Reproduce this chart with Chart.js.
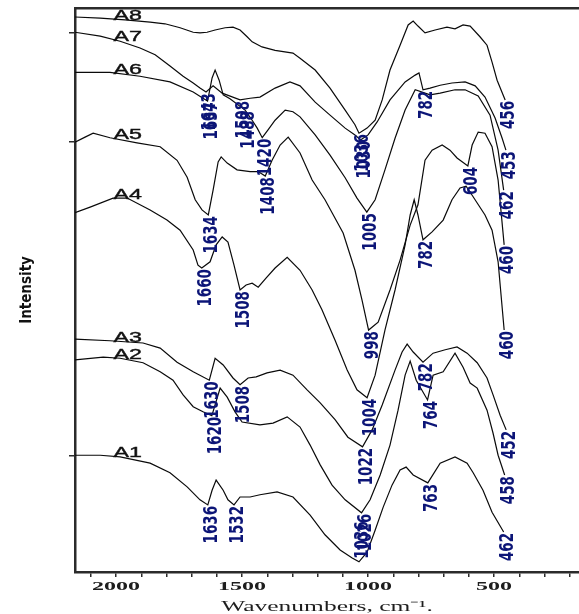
<!DOCTYPE html>
<html>
<head>
<meta charset="utf-8">
<title>FTIR spectra A1-A8</title>
<script src="https://cdn.jsdelivr.net/npm/chart.js@4.4.0/dist/chart.umd.min.js"></script>
<style>
  html, body { margin: 0; padding: 0; background: #fff; }
  canvas { display: block; }
</style>
</head>
<body>
<canvas id="ftirChart" width="579" height="614"></canvas>
<script>
// Spectra as [wavenumber (cm-1), intensity (a.u.)], high to low wavenumber
const a8 = [[2163,98.4],[2063,98.2],[1964,97.9],[1865,97.5],[1806,97.2],[1746,96.5],[1694,95.7],[1667,95.6],[1639,95.7],[1607,96.1],[1567,96.5],[1536,96.6],[1508,96.1],[1480,94.9],[1460,94.0],[1421,93.1],[1369,92.5],[1298,92.0],[1270,91.1],[1210,89.0],[1151,85.8],[1091,81.9],[1052,79.3],[1036,77.8],[1004,78.7],[972,80.1],[944,83.7],[913,89.0],[873,93.4],[841,97.0],[821,97.7],[802,96.8],[774,95.6],[734,96.1],[687,96.6],[655,96.3],[623,97.0],[595,96.8],[556,94.9],[528,93.4],[508,90.4],[488,87.2],[456,83.7]];
const a7 = [[2163,95.7],[2063,95.0],[1984,94.1],[1905,92.9],[1845,91.7],[1786,89.7],[1734,87.9],[1694,86.7],[1667,85.8],[1643,85.1],[1615,86.2],[1579,84.9],[1508,83.7],[1468,84.0],[1429,84.2],[1369,85.8],[1310,86.9],[1270,86.2],[1210,83.3],[1151,81.0],[1091,78.7],[1052,77.5],[1030,76.6],[1000,77.5],[964,79.8],[913,83.7],[853,86.9],[813,88.1],[798,88.5],[782,85.5],[754,85.8],[714,86.3],[667,86.7],[615,86.9],[575,86.2],[536,84.2],[496,80.5],[468,76.9],[453,74.8]];
const a6 = [[2163,88.6],[2024,88.6],[1905,87.9],[1786,86.9],[1694,85.1],[1655,84.0],[1637,83.5],[1619,87.6],[1607,89.0],[1591,87.2],[1575,84.6],[1548,83.9],[1488,81.9],[1460,80.1],[1440,78.7],[1420,77.0],[1397,78.4],[1369,80.1],[1329,81.9],[1298,81.6],[1270,80.7],[1210,77.5],[1151,73.9],[1091,69.9],[1044,66.3],[1005,63.8],[972,66.0],[933,71.3],[893,76.9],[853,81.9],[813,85.5],[754,84.6],[714,84.9],[655,85.5],[615,85.5],[563,84.4],[516,81.0],[484,74.8],[462,67.7]];
const a5 = [[2163,76.2],[2123,77.1],[2091,77.8],[2024,77.0],[1917,76.1],[1825,75.4],[1758,73.0],[1718,70.0],[1686,66.0],[1659,64.2],[1634,63.3],[1615,67.7],[1595,72.7],[1583,73.6],[1559,72.5],[1520,71.3],[1468,71.0],[1436,71.0],[1408,70.2],[1381,73.0],[1349,75.7],[1317,77.1],[1270,74.3],[1222,69.5],[1171,66.0],[1099,60.1],[1052,53.5],[1024,48.2],[998,42.9],[960,44.3],[913,50.0],[873,55.3],[833,61.5],[802,65.1],[774,73.0],[746,74.8],[706,75.7],[675,74.8],[647,73.4],[604,72.0],[587,75.7],[563,78.0],[536,77.8],[508,75.4],[484,69.5],[460,58.0]];
const a4 = [[2163,63.7],[2103,64.7],[2012,66.3],[1956,66.3],[1865,64.2],[1798,62.4],[1746,60.6],[1694,57.1],[1675,54.4],[1660,53.9],[1627,55.0],[1603,58.0],[1579,59.4],[1556,58.5],[1532,54.4],[1508,50.0],[1484,50.9],[1460,51.2],[1436,50.5],[1405,52.1],[1369,53.9],[1321,55.8],[1270,53.5],[1222,50.0],[1183,46.5],[1131,41.1],[1083,35.8],[1044,32.3],[1004,30.9],[972,34.9],[933,42.9],[893,50.0],[853,58.0],[833,63.3],[817,66.0],[802,63.3],[782,58.9],[746,60.3],[702,62.4],[667,66.0],[635,68.1],[611,68.4],[587,66.8],[536,63.3],[508,60.6],[484,55.0],[460,42.9]];
const a3 = [[2163,41.3],[2024,41.0],[1893,40.6],[1825,39.7],[1758,37.2],[1694,35.5],[1630,34.0],[1607,37.9],[1575,36.7],[1536,34.4],[1508,33.2],[1476,34.4],[1444,34.6],[1401,35.3],[1349,35.8],[1298,34.9],[1242,32.3],[1190,30.0],[1131,27.0],[1080,23.9],[1022,22.2],[984,25.2],[944,29.6],[893,35.8],[865,39.0],[845,40.4],[821,39.0],[782,37.2],[742,38.8],[694,39.4],[647,39.9],[607,38.8],[567,37.1],[528,34.4],[504,31.4],[476,27.8],[452,25.2]];
const a2 = [[2163,37.6],[2051,38.1],[1984,37.9],[1893,37.1],[1825,35.5],[1774,34.0],[1734,31.4],[1694,29.3],[1655,28.4],[1620,27.7],[1587,32.6],[1559,31.0],[1528,28.4],[1500,26.6],[1429,26.1],[1377,26.4],[1321,27.5],[1270,25.7],[1230,22.5],[1190,19.0],[1143,15.4],[1091,12.8],[1026,10.5],[992,12.8],[952,17.2],[913,22.5],[881,28.7],[853,34.9],[833,37.4],[809,34.0],[764,30.5],[742,34.9],[702,35.5],[655,38.8],[623,36.3],[595,33.5],[567,32.6],[528,28.7],[504,24.6],[484,20.7],[458,17.2]];
const a1 = [[2163,20.7],[2063,20.7],[1984,20.4],[1865,19.3],[1786,17.6],[1718,15.1],[1667,12.8],[1636,11.9],[1619,14.5],[1603,16.3],[1575,14.5],[1556,12.8],[1532,11.9],[1508,13.3],[1468,13.3],[1429,13.7],[1361,14.2],[1298,13.3],[1230,10.1],[1171,6.6],[1111,3.9],[1063,2.5],[1036,1.8],[1004,3.5],[972,7.4],[940,11.5],[905,15.4],[873,18.1],[849,18.6],[821,17.2],[763,15.8],[714,19.3],[655,20.4],[607,19.3],[583,17.6],[544,14.5],[508,10.6],[462,7.1]];

// Band positions printed on each spectrum
const a8Peaks = [1036, 456];
const a7Peaks = [1643, 1508, 1030, 782, 453];
const a6Peaks = [1637, 1488, 1420, 1005, 462];
const a5Peaks = [1634, 1408, 998, 604, 460];
const a4Peaks = [1660, 1508, 1004, 782, 460];
const a3Peaks = [1630, 1508, 1022, 782, 452];
const a2Peaks = [1620, 1026, 764, 458];
const a1Peaks = [1636, 1532, 1036, 763, 462];

const sampleNames = ['A1', 'A2', 'A3', 'A4', 'A5', 'A6', 'A7', 'A8'];
const xTickMarks = [2100, 2000, 1900, 1800, 1700, 1600, 1500, 1400, 1300, 1200, 1100, 1000, 900, 800, 700, 600, 500, 400, 300, 200];
const xTickLabels = [2000, 1500, 1000, 500];
const yTickMarks = [95.6, 76.2, 20.7];
const xTitle = 'Wavenumbers, cm\u207B\u00B9.';

const spectra = [
    { name: sampleNames[0], points: a1, peaks: a1Peaks },
    { name: sampleNames[1], points: a2, peaks: a2Peaks },
    { name: sampleNames[2], points: a3, peaks: a3Peaks },
    { name: sampleNames[3], points: a4, peaks: a4Peaks },
    { name: sampleNames[4], points: a5, peaks: a5Peaks },
    { name: sampleNames[5], points: a6, peaks: a6Peaks },
    { name: sampleNames[6], points: a7, peaks: a7Peaks },
    { name: sampleNames[7], points: a8, peaks: a8Peaks }
];

// intensity of a spectrum at a given wavenumber (linear between points)
function valueAt(points, w) {
    for (let i = 0; i < points.length - 1; i++) {
        const [w0, v0] = points[i];
        const [w1, v1] = points[i + 1];
        if (w <= w0 && w >= w1) {
            return w0 === w1 ? v0 : v0 + (v1 - v0) * (w0 - w) / (w0 - w1);
        }
    }
    return points[points.length - 1][1];
}

// text stretched sideways, like the old scanned figure fonts
function wideText(ctx, text, x, y, sx, sy) {
    ctx.save();
    ctx.translate(x, y);
    ctx.scale(sx, sy || 1);
    ctx.fillText(text, 0, 0);
    ctx.restore();
}

// sample names written just above the start of each trace
const sampleTags = {
    id: 'sampleTags',
    afterDatasetsDraw(chart) {
        const { ctx, scales: { x, y } } = chart;
        const at = 2010;
        ctx.save();
        ctx.font = '15px "Liberation Sans", Arial, sans-serif';
        ctx.fillStyle = '#111';
        ctx.strokeStyle = '#111';
        ctx.lineWidth = 0.4;
        ctx.textBaseline = 'alphabetic';
        spectra.forEach(s => {
            const px = x.getPixelForValue(at);
            const py = y.getPixelForValue(valueAt(s.points, at));
            ctx.save();
            ctx.translate(px, py + 1);
            ctx.scale(1.55, 1);
            ctx.fillText(s.name, 0, 0);
            ctx.strokeText(s.name, 0, 0);
            ctx.restore();
        });
        ctx.restore();
    }
};

// vertical band labels under each marked minimum
const bandLabels = {
    id: 'bandLabels',
    afterDatasetsDraw(chart) {
        const { ctx, chartArea, scales: { x, y } } = chart;
        ctx.save();
        ctx.font = 'bold 15px "DejaVu Sans Condensed", "DejaVu Sans", sans-serif';
        ctx.fillStyle = '#0c1577';
        ctx.textBaseline = 'middle';
        spectra.forEach(s => {
            s.peaks.forEach(w => {
                const text = String(w);
                const px = x.getPixelForValue(w);
                const py = y.getPixelForValue(valueAt(s.points, w));
                const len = ctx.measureText(text).width;
                const below = py + 2 + len < chartArea.bottom - 3;
                ctx.save();
                ctx.translate(px + 4, py);
                ctx.rotate(-Math.PI / 2);
                ctx.scale(1, 1.3);
                ctx.textAlign = below ? 'right' : 'left';
                ctx.fillText(text, below ? -1 : 3, 0);
                ctx.restore();
            });
        });
        ctx.restore();
    }
};

// wavenumber tick labels and axis title under the x axis
const xAxisText = {
    id: 'xAxisText',
    afterDraw(chart) {
        const { ctx, chartArea, scales: { x } } = chart;
        ctx.save();
        ctx.fillStyle = '#1e1e1e';
        ctx.textAlign = 'center';
        ctx.textBaseline = 'middle';
        ctx.font = 'bold 12px "Liberation Serif", "Times New Roman", serif';
        x.ticks.forEach(t => {
            if (xTickLabels.includes(t.value)) {
                wideText(ctx, String(t.value), x.getPixelForValue(t.value), chartArea.bottom + 15, 2);
            }
        });
        ctx.font = '15px "Liberation Serif", "Times New Roman", serif';
        ctx.textBaseline = 'alphabetic';
        wideText(ctx, xTitle, (chartArea.left + chartArea.right) / 2, chart.height - 3, 1.7);
        ctx.restore();
    }
};

const ctx = document.getElementById('ftirChart').getContext('2d');

new Chart(ctx, {
    type: 'line',
    data: {
        datasets: spectra.map(s => ({
            label: s.name,
            data: s.points.map(([w, v]) => ({ x: w, y: v })),
            borderColor: '#0a0a0a',
            borderWidth: 1.2,
            pointRadius: 0,
            tension: 0,
            fill: false
        }))
    },
    options: {
        responsive: false,
        animation: false,
        layout: { padding: { top: 8, right: 0, bottom: 0, left: 0 } },
        plugins: {
            legend: { display: false },
            tooltip: { enabled: false }
        },
        scales: {
            x: {
                type: 'linear',
                position: 'bottom',
                reverse: true,
                min: 163,
                max: 2163,
                afterBuildTicks: scale => { scale.ticks = xTickMarks.map(v => ({ value: v })); },
                afterFit: scale => { scale.height = 42; },
                border: { display: true, color: '#2b2b2b', width: 2.5 },
                grid: { drawOnChartArea: false, drawTicks: true, tickLength: 5, color: '#2b2b2b', lineWidth: 1.5 },
                ticks: { display: false }
            },
            top: {
                type: 'linear',
                position: 'top',
                reverse: true,
                min: 163,
                max: 2163,
                afterFit: scale => { scale.height = 0; },
                border: { display: true, color: '#2b2b2b', width: 2.5 },
                grid: { drawOnChartArea: false, drawTicks: false },
                ticks: { display: false }
            },
            y: {
                type: 'linear',
                position: 'left',
                min: 0,
                max: 100,
                afterFit: scale => { scale.width = 75; },
                afterBuildTicks: scale => { scale.ticks = yTickMarks.map(v => ({ value: v })); },
                border: { display: true, color: '#2b2b2b', width: 2.5 },
                grid: { drawOnChartArea: false, drawTicks: true, tickLength: 6, color: '#2b2b2b', lineWidth: 1.5 },
                ticks: { display: false },
                title: {
                    display: true,
                    text: 'Intensity',
                    color: '#111',
                    font: { family: '"DejaVu Sans Condensed", "DejaVu Sans", sans-serif', size: 15, weight: 'bold' },
                    padding: { top: 18, bottom: 0 }
                }
            }
        }
    },
    plugins: [sampleTags, bandLabels, xAxisText]
});
</script>
</body>
</html>
